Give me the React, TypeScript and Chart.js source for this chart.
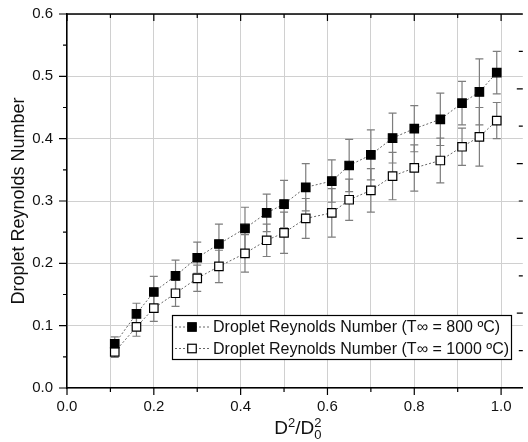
import React, { useEffect, useRef } from "react";
import { Chart, registerables } from "chart.js";

Chart.register(...registerables);

// ---- data ----
const X_VALUES = [0.11, 0.16, 0.2, 0.25, 0.3, 0.35, 0.41, 0.46, 0.5, 0.55, 0.61, 0.65, 0.7, 0.75, 0.8, 0.86, 0.91, 0.95, 0.99];
const RE_800 = [0.071, 0.119, 0.154, 0.18, 0.209, 0.231, 0.256, 0.281, 0.295, 0.322, 0.332, 0.357, 0.374, 0.401, 0.416, 0.431, 0.457, 0.475, 0.506];
const ERR_800 = [0.011, 0.017, 0.025, 0.025, 0.025, 0.032, 0.034, 0.03, 0.038, 0.038, 0.034, 0.042, 0.04, 0.04, 0.037, 0.042, 0.035, 0.053, 0.034];
const RE_1000 = [0.058, 0.098, 0.128, 0.152, 0.176, 0.195, 0.216, 0.237, 0.249, 0.272, 0.281, 0.302, 0.317, 0.34, 0.353, 0.365, 0.387, 0.403, 0.429];
const ERR_1000 = [0.009, 0.015, 0.021, 0.021, 0.021, 0.026, 0.03, 0.026, 0.033, 0.032, 0.039, 0.033, 0.035, 0.038, 0.037, 0.036, 0.03, 0.047, 0.029];
const LABEL_800 = "Droplet Reynolds Number (T∞ = 800 ºC)";
const LABEL_1000 = "Droplet Reynolds Number (T∞ = 1000 ºC)";
const Y_TITLE = "Droplet Reynolds Number";

const X_GRID = [0, 0.1, 0.2, 0.3, 0.4, 0.5, 0.6, 0.7, 0.8, 0.9, 1.0];
const X_LABELS = [0, 0.2, 0.4, 0.6, 0.8, 1.0];
const Y_TICKS = [0, 0.1, 0.2, 0.3, 0.4, 0.5, 0.6];
const Y_MINOR = [0.05, 0.15, 0.25, 0.35, 0.45, 0.55];
const RIGHT_TICKS = [10, 20, 30, 40, 50, 60, 70, 80, 90];
const RIGHT_MAJOR = [20, 40, 60, 80];

const ERRORS = [ERR_800, ERR_1000];
const FONT = "'Liberation Sans', Arial, Helvetica, sans-serif";

const isIn = (arr: number[], v: number) => arr.some((a) => Math.abs(a - v) < 1e-6);

const decorPlugin = {
  id: "decor",
  beforeDatasetsDraw(chart: any) {
    const { ctx } = chart;
    const xs = chart.scales.x;
    const ys = chart.scales.y;
    ctx.save();
    ctx.strokeStyle = "#7d7d7d";
    ctx.lineWidth = 1.2;
    chart.data.datasets.forEach((ds: any, di: number) => {
      const errs = ERRORS[di];
      ds.data.forEach((p: any, i: number) => {
        const px = xs.getPixelForValue(p.x);
        const top = ys.getPixelForValue(p.y + errs[i]);
        const bot = ys.getPixelForValue(p.y - errs[i]);
        ctx.beginPath();
        ctx.moveTo(px, top);
        ctx.lineTo(px, bot);
        ctx.moveTo(px - 4, top);
        ctx.lineTo(px + 4, top);
        ctx.moveTo(px - 4, bot);
        ctx.lineTo(px + 4, bot);
        ctx.stroke();
      });
    });
    ctx.restore();
  },
  afterDraw(chart: any) {
    const { ctx, chartArea } = chart;
    const { left, right, top, bottom } = chartArea;
    const xs = chart.scales.x;
    const ys = chart.scales.y;
    const y2 = chart.scales.y2;
    ctx.save();
    ctx.strokeStyle = "#000";
    ctx.lineWidth = 1.5;
    // top frame line
    ctx.beginPath();
    ctx.moveTo(left, top);
    ctx.lineTo(right, top);
    ctx.stroke();
    ctx.lineWidth = 1.2;
    ctx.beginPath();
    X_GRID.forEach((v) => {
      const px = xs.getPixelForValue(v);
      const len = isIn(X_LABELS, v) ? 7 : 4;
      ctx.moveTo(px, top);
      ctx.lineTo(px, top + len);
      ctx.moveTo(px, bottom);
      ctx.lineTo(px, bottom + len);
    });
    Y_TICKS.forEach((v) => {
      const py = ys.getPixelForValue(v);
      ctx.moveTo(left - 8, py);
      ctx.lineTo(left, py);
    });
    Y_MINOR.forEach((v) => {
      const py = ys.getPixelForValue(v);
      ctx.moveTo(left - 4, py);
      ctx.lineTo(left, py);
    });
    RIGHT_TICKS.forEach((v) => {
      const py = y2.getPixelForValue(v);
      const len = isIn(RIGHT_MAJOR, v) ? 6 : 4;
      ctx.moveTo(right - len, py);
      ctx.lineTo(right, py);
    });
    ctx.stroke();

    // legend
    const lx = 172, ly = 315, lw = 339, lh = 44;
    ctx.fillStyle = "#fff";
    ctx.fillRect(lx, ly, lw, lh);
    ctx.strokeStyle = "#000";
    ctx.lineWidth = 1.2;
    ctx.strokeRect(lx + 0.5, ly + 0.5, lw, lh);
    chart.data.datasets.forEach((ds: any, i: number) => {
      const cy = ly + 12 + i * 21.5;
      ctx.save();
      ctx.strokeStyle = "#666";
      ctx.lineWidth = 1;
      ctx.setLineDash([2, 2]);
      ctx.beginPath();
      ctx.moveTo(lx + 3, cy);
      ctx.lineTo(lx + 38, cy);
      ctx.stroke();
      ctx.restore();
      const s = 8.5;
      ctx.fillStyle = ds.pointBackgroundColor;
      ctx.fillRect(lx + 20 - s / 2, cy - s / 2, s, s);
      ctx.strokeStyle = "#000";
      ctx.lineWidth = 1.2;
      ctx.strokeRect(lx + 20 - s / 2, cy - s / 2, s, s);
      ctx.fillStyle = "#111";
      ctx.font = `16px ${FONT}`;
      ctx.textBaseline = "middle";
      ctx.textAlign = "left";
      ctx.fillText(ds.label, lx + 41, cy + 1);
    });

    // x title: D^2/D_0^2
    const base = 434;
    const big = `19px ${FONT}`;
    const small = `13px ${FONT}`;
    ctx.fillStyle = "#111";
    ctx.textBaseline = "alphabetic";
    ctx.textAlign = "left";
    ctx.font = big;
    const wD = ctx.measureText("D").width;
    const wSl = ctx.measureText("/").width;
    ctx.font = small;
    const w2 = ctx.measureText("2").width;
    const total = wD + w2 + wSl + wD + w2;
    let x = (left + right) / 2 - total / 2 + 3;
    ctx.font = big;
    ctx.fillText("D", x, base);
    x += wD;
    ctx.font = small;
    ctx.fillText("2", x, base - 7);
    x += w2;
    ctx.font = big;
    ctx.fillText("/", x, base);
    x += wSl;
    ctx.fillText("D", x, base);
    x += wD;
    ctx.font = small;
    ctx.fillText("2", x, base - 7);
    ctx.fillText("0", x, base + 5);
    ctx.restore();
  },
};

export default function App() {
  const ref = useRef<HTMLCanvasElement | null>(null);
  useEffect(() => {
    if (!ref.current) return;
    const chart = new Chart(ref.current, {
      type: "line",
      data: {
        datasets: [
          {
            label: LABEL_800,
            data: X_VALUES.map((x, i) => ({ x, y: RE_800[i] })),
            borderColor: "#666",
            borderWidth: 1,
            borderDash: [2, 2],
            pointStyle: "rect",
            pointRadius: 6,
            pointBorderWidth: 1.2,
            pointBorderColor: "#000",
            pointBackgroundColor: "#000",
            tension: 0,
          },
          {
            label: LABEL_1000,
            data: X_VALUES.map((x, i) => ({ x, y: RE_1000[i] })),
            borderColor: "#666",
            borderWidth: 1,
            borderDash: [2, 2],
            pointStyle: "rect",
            pointRadius: 6,
            pointBorderWidth: 1.2,
            pointBorderColor: "#000",
            pointBackgroundColor: "#fff",
            tension: 0,
          },
        ],
      },
      options: {
        responsive: false,
        animation: false,
        devicePixelRatio: 1,
        layout: { padding: { left: 0, top: 14, right: 1, bottom: 0 } },
        plugins: { legend: { display: false }, tooltip: { enabled: false } },
        scales: {
          x: {
            type: "linear",
            min: 0,
            max: 1.05,
            afterBuildTicks: (s: any) => {
              s.ticks = X_GRID.map((v) => ({ value: v }));
            },
            afterFit: (s: any) => {
              s.height = 54;
              s.paddingLeft = 0;
              s.paddingRight = 0;
            },
            grid: { color: "#d0d0d0", lineWidth: 1, drawTicks: false },
            border: { color: "#000", width: 1.5 },
            ticks: {
              padding: 10,
              autoSkip: false,
              maxRotation: 0,
              color: "#111",
              font: { family: FONT, size: 15 },
              callback: (v: any) => (isIn(X_LABELS, Number(v)) ? Number(v).toFixed(1) : ""),
            },
          },
          y: {
            type: "linear",
            min: 0,
            max: 0.6,
            afterBuildTicks: (s: any) => {
              s.ticks = Y_TICKS.map((v) => ({ value: v }));
            },
            afterFit: (s: any) => {
              s.width = 67;
              s.paddingTop = 0;
              s.paddingBottom = 0;
            },
            grid: { color: "#d0d0d0", lineWidth: 1, drawTicks: false },
            border: { color: "#000", width: 1.5 },
            ticks: {
              padding: 14,
              color: "#111",
              font: { family: FONT, size: 15 },
              callback: (v: any) => Number(v).toFixed(1),
            },
            title: {
              display: true,
              text: Y_TITLE,
              color: "#111",
              font: { family: FONT, size: 18 },
              padding: { top: 8, bottom: 0 },
            },
          },
          y2: {
            type: "linear",
            display: false,
            min: 0,
            max: 100,
          },
        },
      },
      plugins: [decorPlugin],
    } as any);
    return () => chart.destroy();
  }, []);
  return (
    <div
      style={{
        position: "fixed",
        left: 0,
        top: 0,
        width: 528,
        height: 442,
        overflow: "hidden",
        background: "#fff",
      }}
    >
      <canvas ref={ref} width={530} height={442} style={{ display: "block" }} />
    </div>
  );
}
